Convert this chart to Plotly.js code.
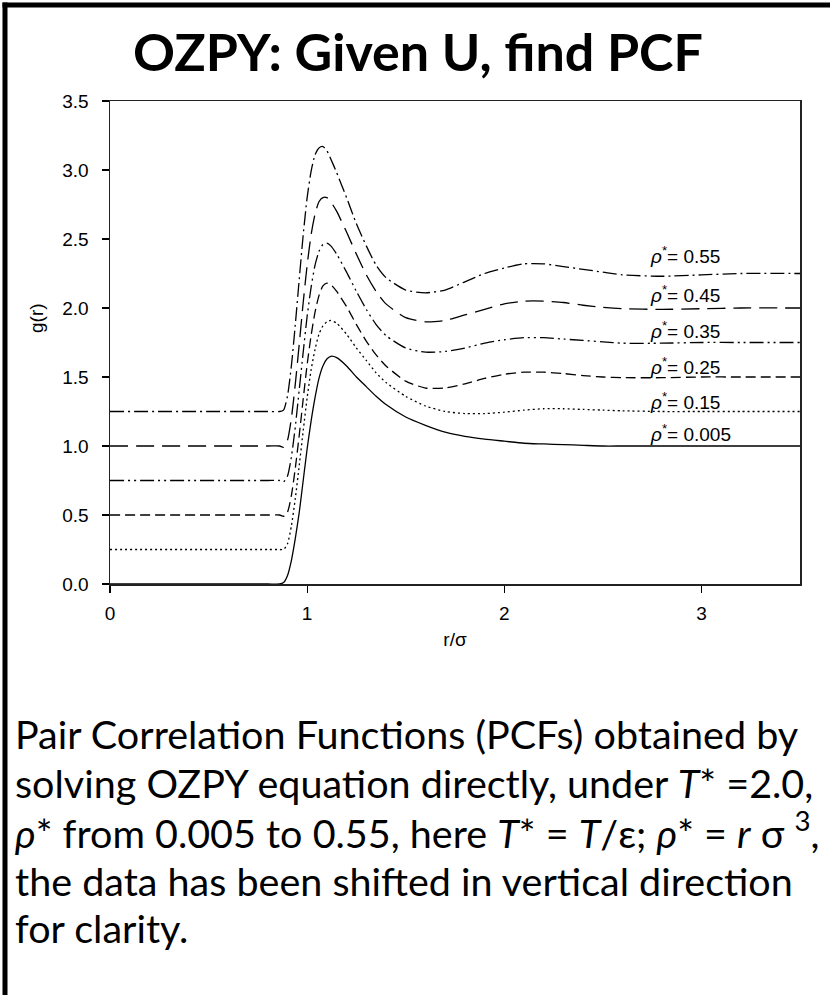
<!DOCTYPE html>
<html>
<head>
<meta charset="utf-8">
<script src="https://cdn.plot.ly/plotly-3.0.1.min.js"></script>
<style>
  html, body { margin: 0; padding: 0; background: #ffffff; }
  #chart { width: 830px; height: 995px; }
</style>
</head>
<body>
<div id="chart"></div>
<script>
// r/sigma grid shared by all curves
const r = [0, 0.80, 0.86, 0.88, 0.90, 0.92, 0.94, 0.96, 0.98, 1.00, 1.02, 1.04, 1.06, 1.08, 1.10, 1.12, 1.15, 1.20, 1.25, 1.30, 1.35, 1.40, 1.50, 1.60, 1.70, 1.80, 1.90, 2.00, 2.10, 2.20, 2.30, 2.40, 2.50, 2.60, 2.80, 3.00, 3.20, 3.50];

// g(r) as plotted (already shifted vertically for clarity)
const g_0005 = [0, 0, 0, 0.01, 0.06, 0.17, 0.33, 0.52, 0.75, 0.98, 1.18, 1.35, 1.49, 1.58, 1.63, 1.65, 1.64, 1.58, 1.50, 1.43, 1.36, 1.30, 1.21, 1.15, 1.10, 1.07, 1.05, 1.035, 1.02, 1.015, 1.01, 1.005, 1.0, 1.0, 1.0, 1.0, 1.0, 1.0];
const g_015  = [0.25, 0.25, 0.25, 0.25, 0.29, 0.42, 0.62, 0.86, 1.11, 1.35, 1.55, 1.70, 1.81, 1.87, 1.90, 1.91, 1.89, 1.81, 1.71, 1.62, 1.53, 1.46, 1.36, 1.29, 1.25, 1.235, 1.235, 1.245, 1.26, 1.27, 1.27, 1.265, 1.26, 1.255, 1.25, 1.25, 1.25, 1.25];
const g_025  = [0.5, 0.5, 0.5, 0.49, 0.52, 0.64, 0.84, 1.08, 1.34, 1.59, 1.80, 1.97, 2.09, 2.16, 2.18, 2.17, 2.12, 2.01, 1.88, 1.76, 1.66, 1.58, 1.47, 1.42, 1.42, 1.45, 1.49, 1.52, 1.535, 1.535, 1.525, 1.51, 1.50, 1.495, 1.495, 1.50, 1.50, 1.50];
const g_035  = [0.75, 0.75, 0.75, 0.74, 0.78, 0.92, 1.14, 1.41, 1.68, 1.94, 2.15, 2.31, 2.41, 2.46, 2.47, 2.45, 2.39, 2.26, 2.12, 1.99, 1.88, 1.80, 1.71, 1.68, 1.685, 1.71, 1.745, 1.77, 1.785, 1.785, 1.775, 1.765, 1.755, 1.745, 1.745, 1.75, 1.75, 1.75];
const g_045  = [1.0, 1.0, 1.0, 0.99, 1.04, 1.20, 1.45, 1.74, 2.04, 2.31, 2.53, 2.68, 2.77, 2.80, 2.80, 2.77, 2.70, 2.55, 2.39, 2.24, 2.12, 2.03, 1.93, 1.90, 1.91, 1.95, 1.99, 2.03, 2.05, 2.05, 2.04, 2.02, 2.005, 1.995, 1.99, 1.995, 2.0, 2.0];
const g_055  = [1.25, 1.25, 1.25, 1.26, 1.36, 1.58, 1.88, 2.21, 2.53, 2.80, 2.99, 3.11, 3.16, 3.17, 3.14, 3.08, 2.98, 2.80, 2.61, 2.45, 2.31, 2.22, 2.13, 2.11, 2.13, 2.19, 2.25, 2.29, 2.32, 2.32, 2.30, 2.28, 2.26, 2.24, 2.23, 2.24, 2.25, 2.25];

const labels = ["0.005", "0.15", "0.25", "0.35", "0.45", "0.55"];
const yTicks = [0, 0.5, 1.0, 1.5, 2.0, 2.5, 3.0, 3.5];
const xTicks = [0, 1, 2, 3];

const series = [g_0005, g_015, g_025, g_035, g_045, g_055];
const dashes = ["solid", "2px,3px", "10px,5px", "14px,4px,2px,4px,2px,4px", "18px,8px", "14px,4px,2px,4px"];

const traces = series.map((ys, i) => ({
  x: r, y: ys, type: "scatter", mode: "lines",
  line: { color: "#000000", width: 1.3, dash: dashes[i], shape: "spline", smoothing: 0.6 },
  name: labels[i], hoverinfo: "skip"
}));

// plot area in pixels
const L = 110, R = 800, T = 101, B = 584;
const px = x => (x - L) / (R - L);
const py = y => (B - y) / (B - T);

const annFont = { family: "Liberation Sans, Arial, sans-serif", size: 19, color: "#000" };
const labelY = [1.094, 1.326, 1.580, 1.841, 2.101, 2.384];
const annotations = labels.map((lab, i) => ({
  x: 2.73, y: labelY[i], xref: "x", yref: "y", xanchor: "left", yanchor: "middle",
  text: "<i>ρ</i><sup>*</sup>= " + lab, showarrow: false, font: annFont
}));

annotations.push({
  x: px(36), y: py(318), xref: "paper", yref: "paper", textangle: -90,
  text: "g(r)", showarrow: false, xanchor: "center", yanchor: "middle", font: annFont
});

const paraFont = { family: "Lato, sans-serif", size: 39.5, color: "#000" };
const para = [
  "Pair Correlation Functions (PCFs) obtained by",
  "solving OZPY equation directly, under <i>T</i>* =2.0,",
  "<i>ρ</i>* from 0.005 to 0.55, here <i>T</i>* = <i>T</i>/ε; <i>ρ</i>* = <i>r</i> σ <sup>3</sup>,",
  "the data has been shifted in vertical direction",
  "for clarity."
];
const paraY = [733, 782, 830, 880, 928];
para.forEach((t, i) => annotations.push({
  x: px(13), y: py(paraY[i]), xref: "paper", yref: "paper",
  xanchor: "left", yanchor: "middle", text: t, showarrow: false, font: paraFont
}));

const layout = {
  width: 830, height: 995,
  margin: { l: L, r: 830 - R, t: T, b: 995 - B },
  paper_bgcolor: "#ffffff", plot_bgcolor: "#ffffff",
  showlegend: false,
  title: {
    text: "<b>OZPY: Given U, find PCF</b>",
    font: { family: "Lato, sans-serif", size: 52, color: "#000" },
    x: 418 / 830, xanchor: "center", xref: "container",
    y: 1 - 53 / 995, yanchor: "middle", yref: "container"
  },
  xaxis: {
    range: [0, 3.5], tickvals: xTicks, ticktext: xTicks.map(String),
    ticks: "outside", ticklen: 7, tickwidth: 1.2, tickcolor: "#000",
    showline: true, linecolor: "#222", linewidth: 1.5, mirror: true,
    showgrid: false, zeroline: false, ticklabelstandoff: 5,
    tickfont: annFont,
    title: { text: "r/σ", font: annFont, standoff: 9 }
  },
  yaxis: {
    range: [0, 3.5], tickvals: yTicks, ticktext: yTicks.map(v => v.toFixed(1)),
    ticks: "outside", ticklen: 7, tickwidth: 1.2, tickcolor: "#000",
    showline: true, linecolor: "#222", linewidth: 1.5, mirror: true,
    showgrid: false, zeroline: false, ticklabelstandoff: 9,
    tickfont: annFont
  },
  annotations: annotations,
  shapes: [
    { type: "line", xref: "paper", yref: "paper", x0: px(5), x1: px(5), y0: py(2.5), y1: py(1000),
      line: { color: "#000", width: 5 } },
    { type: "line", xref: "paper", yref: "paper", x0: px(2.5), x1: px(840), y0: py(5), y1: py(5),
      line: { color: "#000", width: 5 } }
  ]
};

Plotly.newPlot("chart", traces, layout, { displayModeBar: false, staticPlot: true });
</script>
</body>
</html>
